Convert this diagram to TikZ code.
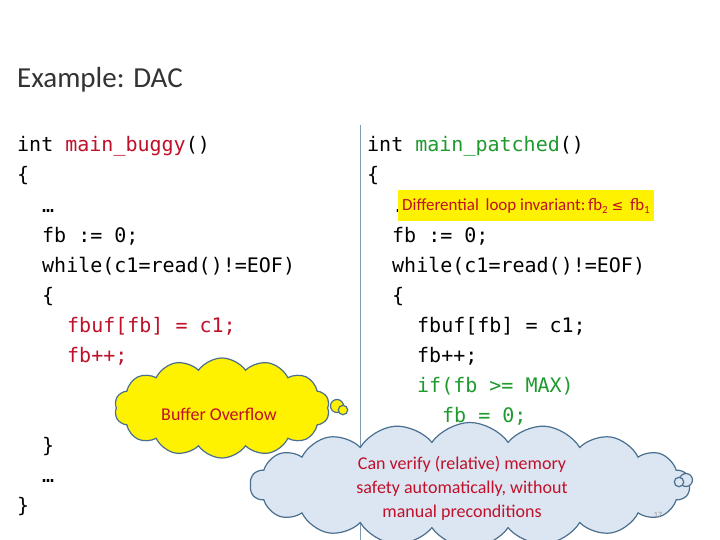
\documentclass[tikz,border=0pt]{standalone}
\usepackage{fontspec}
\setmainfont{Carlito}
\newfontfamily\codef{DejaVu Sans Mono}
\newfontfamily\symf{DejaVu Sans}
\usetikzlibrary{shapes.symbols}
\definecolor{cred}{HTML}{C0102A}
\definecolor{cgreen}{HTML}{1E9A2E}
\definecolor{cloudblue}{HTML}{DCE6F2}
\definecolor{edgeblue}{HTML}{4A6F8F}
\tikzset{
 code/.style={anchor=base west,inner sep=0pt,font=\codef\fontsize{20}{24}\selectfont},
 cloudy/.style={cloud,cloud puffs=14,cloud puff arc=110,aspect=2.2,draw=edgeblue,line width=1.2pt,inner sep=0pt},
 bub/.style={circle,draw=edgeblue,line width=1.2pt,fill=cloudblue}
}
\begin{document}
\begin{tikzpicture}[x=1pt,y=-1pt]
\useasboundingbox (0,0) rectangle (720,540);
\fill[white] (0,0) rectangle (720,540);
\node[anchor=base west,inner sep=0pt,font=\fontsize{29}{32}\selectfont,text=black!80] (title) at (17,88) {Example: DAC};
\draw[edgeblue!70,line width=0.8pt] (360,125) -- (360,540) coordinate (divend);
% left code
\node[code] (l1) at (17,152) {int \textcolor{cred}{main\_buggy}()};
\node[code] (l2) at (17,182) {\{};
\node[code] (l3) at (42,212) {…};
\node[code] (l4) at (42,242) {fb := 0;};
\node[code] (l5) at (42,272) {while(c1=read()!=EOF)};
\node[code] (l6) at (42,302) {\{};
\node[code,text=cred] (l7) at (67,332) {fbuf[fb] = c1;};
\node[code,text=cred] (l8) at (67,362) {fb++;};
\node[code] (l9) at (42,452) {\}};
\node[code] (l10) at (42,482) {…};
\node[code] (l11) at (17,512) {\}};
% right code
\node[code] (r1) at (367,152) {int \textcolor{cgreen}{main\_patched}()};
\node[code] (r2) at (367,182) {\{};
\node[code] (r3) at (392,212) {.};
\node[code] (r4) at (392,242) {fb := 0;};
\node[code] (r5) at (392,272) {while(c1=read()!=EOF)};
\node[code] (r6) at (392,302) {\{};
\node[code] (r7) at (417,332) {fbuf[fb] = c1;};
\node[code] (r8) at (417,362) {fb++;};
\node[code,text=cgreen] (r9) at (417,392) {if(fb >= MAX)};
\node[code,text=cgreen] (r10) at (442,422) {fb = 0;};
\node[code] (r11) at (392,452) {\}};
% highlight
\node[fill=yellow,anchor=west,minimum height=31pt,inner xsep=4pt,text=cred,font=\fontsize{17}{20}\selectfont] (inv) at (398,206) {Differential\, loop invariant:\,fb\raisebox{-3pt}{\fontsize{11}{12}\selectfont 2} {\symf\fontsize{14}{16}\selectfont ≤} \,fb\raisebox{-3pt}{\fontsize{11}{12}\selectfont 1}};
% yellow cloud
\node[cloudy,fill=yellow,minimum width=215pt,minimum height=100pt] (c1) at (222,408) {};
\node[text=cred,font=\fontsize{18}{21}\selectfont] (c1t) at (219,414) {Buffer Overflow};
\node[bub,fill=yellow,minimum size=13pt] (b1a) at (337,406) {};
\node[bub,fill=yellow,minimum size=8pt] (b1b) at (343,410) {};
% blue cloud
\node[cloudy,fill=cloudblue,minimum width=440pt,minimum height=125pt,cloud puffs=18] (c2) at (470,485) {};
\node[text=cred,align=center,font=\fontsize{18}{24}\selectfont] (c2t) at (462,488) {Can verify (relative) memory\\safety automatically, without\\manual preconditions};
\node[bub,minimum size=13pt] (b2a) at (686,480) {};
\node[bub,minimum size=8pt] (b2b) at (679,482) {};
\node[text=black!40,font=\fontsize{8}{9}\selectfont] (pg) at (658,515) {17};
\end{tikzpicture}
\end{document}
